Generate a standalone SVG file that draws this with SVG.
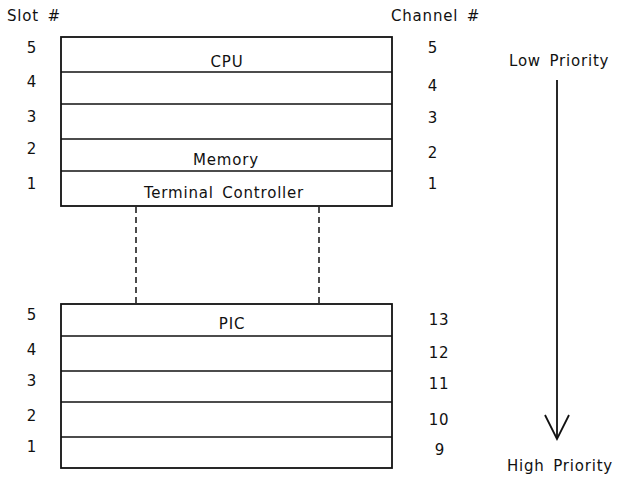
<svg xmlns="http://www.w3.org/2000/svg" width="618" height="478" viewBox="0 0 618 478">
<style>
text{font-family:"DejaVu Sans","Liberation Sans",sans-serif;font-size:15px;fill:#111;letter-spacing:0.8px;word-spacing:3px}
.m{text-anchor:middle}
.box{fill:#fff;stroke:#111;stroke-width:1.8}
.div{stroke:#111;stroke-width:1.5}
.dash{stroke:#111;stroke-width:1.5;stroke-dasharray:6 4;fill:none}
.arr{stroke:#111;stroke-width:1.8;fill:none}
</style>
<text x="7" y="21">Slot #</text>
<text x="391" y="21">Channel #</text>
<g id="connectors">
<line class="dash" x1="136" y1="207" x2="136" y2="304"/>
<line class="dash" x1="319" y1="207" x2="319" y2="304"/>
<line class="arr" x1="557" y1="80" x2="557" y2="439"/>
<polyline class="arr" points="545,415 557,439 569,415"/>
</g>
<g id="upper-rack">
<rect class="box" x="61" y="37" width="331" height="169"/>
<line class="div" x1="61" y1="72" x2="392" y2="72"/>
<line class="div" x1="61" y1="104" x2="392" y2="104"/>
<line class="div" x1="61" y1="139" x2="392" y2="139"/>
<line class="div" x1="61" y1="171" x2="392" y2="171"/>
<text class="m" x="227" y="67">CPU</text>
<text class="m" x="226" y="165">Memory</text>
<text class="m" x="224" y="198">Terminal Controller</text>
</g>
<g id="upper-slots">
<text class="m" x="32" y="53">5</text>
<text class="m" x="32" y="87">4</text>
<text class="m" x="32" y="122">3</text>
<text class="m" x="32" y="154">2</text>
<text class="m" x="32" y="189">1</text>
<text class="m" x="433" y="53">5</text>
<text class="m" x="433" y="91">4</text>
<text class="m" x="433" y="123">3</text>
<text class="m" x="433" y="158">2</text>
<text class="m" x="433" y="189">1</text>
</g>
<g id="lower-rack">
<rect class="box" x="61" y="304" width="331" height="164"/>
<line class="div" x1="61" y1="336" x2="392" y2="336"/>
<line class="div" x1="61" y1="371" x2="392" y2="371"/>
<line class="div" x1="61" y1="402" x2="392" y2="402"/>
<line class="div" x1="61" y1="437" x2="392" y2="437"/>
<text class="m" x="232" y="329">PIC</text>
</g>
<g id="lower-slots">
<text class="m" x="32" y="320">5</text>
<text class="m" x="32" y="355">4</text>
<text class="m" x="32" y="386">3</text>
<text class="m" x="32" y="421">2</text>
<text class="m" x="32" y="452">1</text>
<text class="m" x="439" y="325">13</text>
<text class="m" x="439" y="358">12</text>
<text class="m" x="439" y="389">11</text>
<text class="m" x="439" y="425">10</text>
<text class="m" x="440" y="455">9</text>
</g>
<g id="priority">
<text x="509" y="66">Low Priority</text>
<text x="507" y="471">High Priority</text>
</g>
</svg>
